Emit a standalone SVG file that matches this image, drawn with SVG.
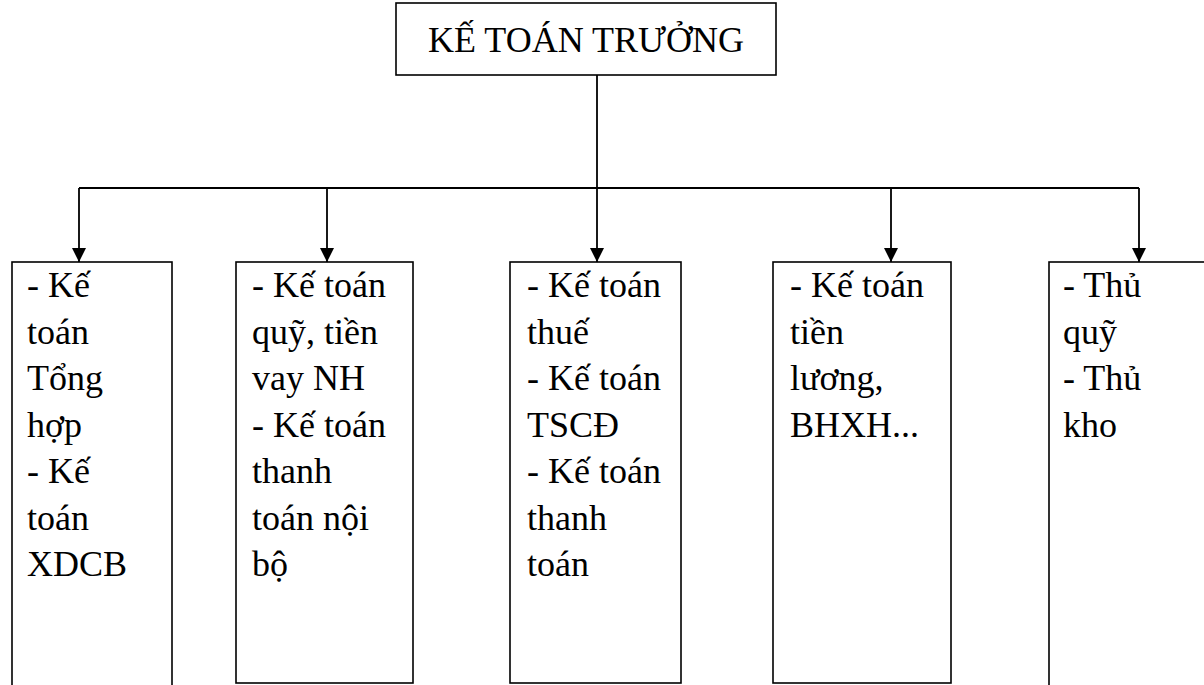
<svg xmlns="http://www.w3.org/2000/svg" width="1204" height="685" viewBox="0 0 1204 685">
  <style>
    .box { fill: #fff; stroke: #000; stroke-width: 1.6; }
    .edge { fill: none; stroke: #000; stroke-width: 1.8; }
    text { font-family: "Liberation Serif", "Times New Roman", "DejaVu Serif", serif; font-size: 36px; fill: #000; }
  </style>
  <defs>
    <marker id="arrow" viewBox="0 0 14 14" refX="14" refY="7" markerWidth="14" markerHeight="14" markerUnits="userSpaceOnUse" orient="auto">
      <path d="M0,0 L14,7 L0,14 Z" fill="#000"/>
    </marker>
  </defs>

  <rect width="1204" height="685" fill="#fff"/>

  <!-- connectors -->
  <g id="connectors">
    <line class="edge" x1="597" y1="75" x2="597" y2="188"/>
    <line class="edge" x1="79" y1="188" x2="1139" y2="188"/>
    <line class="edge" x1="79" y1="188" x2="79" y2="262" marker-end="url(#arrow)"/>
    <line class="edge" x1="327" y1="188" x2="327" y2="262" marker-end="url(#arrow)"/>
    <line class="edge" x1="597" y1="188" x2="597" y2="262" marker-end="url(#arrow)"/>
    <line class="edge" x1="891" y1="188" x2="891" y2="262" marker-end="url(#arrow)"/>
    <line class="edge" x1="1139" y1="188" x2="1139" y2="262" marker-end="url(#arrow)"/>
  </g>

  <!-- head node -->
  <g id="ke-toan-truong">
    <rect class="box" x="396" y="3" width="380" height="72"/>
    <text x="428" y="52" font-family="Liberation Serif, serif">KẾ TOÁN TRƯỞNG</text>
  </g>

  <!-- sub nodes -->
  <g id="tong-hop">
    <rect class="box" x="12" y="262" width="160" height="440"/>
    <text x="27" y="297">- Kế</text>
    <text x="27" y="344">toán</text>
    <text x="27" y="390">Tổng</text>
    <text x="27" y="437">hợp</text>
    <text x="27" y="483">- Kế</text>
    <text x="27" y="530">toán</text>
    <text x="27" y="576">XDCB</text>
  </g>

  <g id="quy-thanh-toan">
    <rect class="box" x="236" y="262" width="177" height="421"/>
    <text x="252" y="297">- Kế toán</text>
    <text x="252" y="344">quỹ, tiền</text>
    <text x="252" y="390">vay NH</text>
    <text x="252" y="437">- Kế toán</text>
    <text x="252" y="483">thanh</text>
    <text x="252" y="530">toán nội</text>
    <text x="252" y="576">bộ</text>
  </g>

  <g id="thue-tscd">
    <rect class="box" x="510" y="262" width="171" height="421"/>
    <text x="527" y="297">- Kế toán</text>
    <text x="527" y="344">thuế</text>
    <text x="527" y="390">- Kế toán</text>
    <text x="527" y="437">TSCĐ</text>
    <text x="527" y="483">- Kế toán</text>
    <text x="527" y="530">thanh</text>
    <text x="527" y="576">toán</text>
  </g>

  <g id="tien-luong">
    <rect class="box" x="773" y="262" width="178" height="421"/>
    <text x="790" y="297">- Kế toán</text>
    <text x="790" y="344">tiền</text>
    <text x="790" y="390">lương,</text>
    <text x="790" y="437">BHXH...</text>
  </g>

  <g id="thu-quy-kho">
    <rect class="box" x="1049" y="262" width="180" height="440"/>
    <text x="1063" y="297">- Thủ</text>
    <text x="1063" y="344">quỹ</text>
    <text x="1063" y="390">- Thủ</text>
    <text x="1063" y="437">kho</text>
  </g>
</svg>
